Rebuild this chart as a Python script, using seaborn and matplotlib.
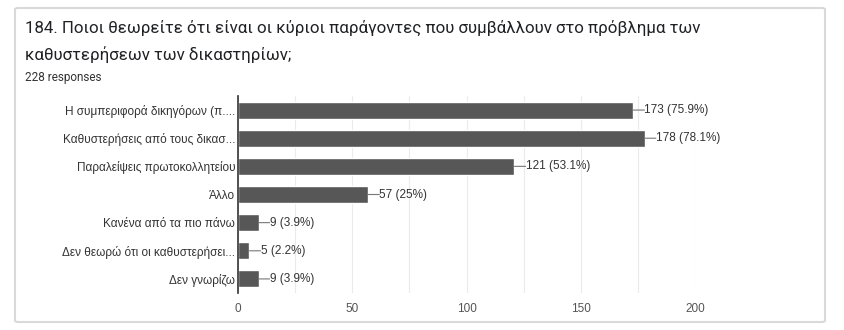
import matplotlib
matplotlib.use("Agg")
import matplotlib.pyplot as plt
import seaborn as sns
import pandas as pd
from matplotlib.patches import FancyBboxPatch

categories = [
    "Η συμπεριφορά δικηγόρων (π....",
    "Καθυστερήσεις από τους δικασ...",
    "Παραλείψεις πρωτοκολλητείου",
    "Άλλο",
    "Κανένα από τα πιο πάνω",
    "Δεν θεωρώ ότι οι καθυστερήσει...",
    "Δεν γνωρίζω",
]
counts = [173, 178, 121, 57, 9, 5, 9]
percents = ["75.9%", "78.1%", "53.1%", "25%", "3.9%", "2.2%", "3.9%"]
xticks = [0, 50, 100, 150, 200]

title = "184. Ποιοι θεωρείτε ότι είναι οι κύριοι παράγοντες που συμβάλλουν στο πρόβλημα των\nκαθυστερήσεων των δικαστηρίων;"
subtitle = "228 responses"

sns.set_theme(style="white")
plt.rcParams['font.family'] = ['Liberation Sans', 'DejaVu Sans']

df = pd.DataFrame({"category": categories, "count": counts})

fig = plt.figure(figsize=(8.44, 3.3), dpi=100)
fig.patch.set_facecolor("white")

# card border
card = FancyBboxPatch((15 / 844, 8 / 330), 810 / 844, 314 / 330,
                      boxstyle="round,pad=0,rounding_size=0.004",
                      transform=fig.transFigure, facecolor="none",
                      edgecolor="#d9d9d9", linewidth=1.5, zorder=-1)
fig.patches.append(card)

ax = fig.add_axes([238 / 844, 1 - 293 / 330, (695 - 238) / 844, (293 - 96) / 330])
ax.set_facecolor("none")
sns.barplot(data=df, y="category", x="count", color="#575757", saturation=1,
            width=0.6, ax=ax, orient="h")

ax.set_xlim(0, 200)
ax.set_xticks(xticks)
ax.set_xticklabels([str(t) for t in xticks], fontsize=8.5, color="#555555")
ax.set_xticks(range(0, 201, 25), minor=True)
ax.grid(axis="x", which="both", color="#ebebeb", linewidth=0.8)
ax.set_axisbelow(True)
ax.tick_params(axis="y", labelsize=8.5, labelcolor="#333333", length=0, pad=2)
ax.tick_params(axis="x", length=0, pad=7)
ax.set_xlabel("")
ax.set_ylabel("")
for s in ["top", "right", "bottom"]:
    ax.spines[s].set_visible(False)
ax.spines["left"].set_color("#333333")
ax.spines["left"].set_linewidth(1.2)

for i, (c, p) in enumerate(zip(counts, percents)):
    ax.annotate(f"{c} ({p})", xy=(c, i), xytext=(8, 0), textcoords="offset points",
                va="center", ha="left", fontsize=8.5, color="#333333",
                bbox=dict(boxstyle="square,pad=0", fc="none", ec="none"),
                arrowprops=dict(arrowstyle="-", color="#777777", lw=0.8,
                                shrinkA=0, shrinkB=0))

fig.text(25 / 844, 1 - 20 / 330, title, fontsize=12.2, color="#202124",
         family=["Roboto", "DejaVu Sans"], va="top", ha="left", linespacing=1.7)
fig.text(25 / 844, 1 - 77 / 330, subtitle, fontsize=8.5, color="#333333",
         family=["Roboto", "DejaVu Sans"], va="center", ha="left")

fig.savefig("out.png", dpi=100, facecolor="white")
